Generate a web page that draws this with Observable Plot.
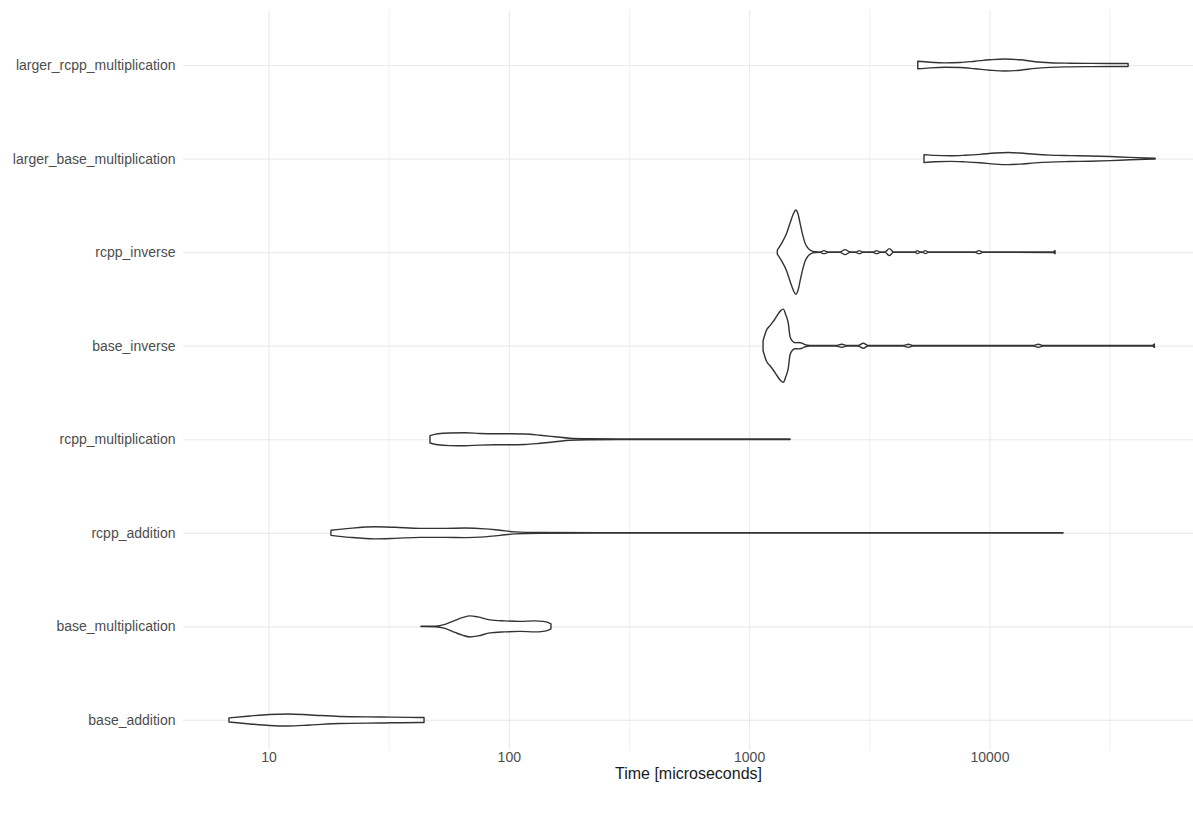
<!DOCTYPE html>
<html><head><meta charset="utf-8">
<script src="https://cdn.jsdelivr.net/npm/d3@7"></script>
<script src="https://cdn.jsdelivr.net/npm/@observablehq/plot@0.6"></script>
<style>body{margin:0;background:#fff;} #chart{width:1193px;height:816px;}</style>
</head><body><div id="chart"></div>
<script>
// categories, bottom to top
const categories = ["base_addition","base_multiplication","rcpp_addition","rcpp_multiplication","base_inverse","rcpp_inverse","larger_base_multiplication","larger_rcpp_multiplication"];

// x axis breaks (microseconds)
const xTicks = [10, 100, 1000, 10000];
const minorBreaks = [31.62, 316.2, 3162, 31623];

// violin outlines: time (microseconds) and relative density (% of widest)
const baseAdditionTime = [6.85,8.38,10.1,12.05,14.9,19.8,29.1,42.7,44.4];
const baseAdditionDens = [4.8,9.5,13.1,14.3,11.9,8.3,7.1,6.0,6.0];

const baseMultTime = [43.1,49.3,54.3,59.7,64.5,69.0,74.4,83.5,96.4,111.3,128.5,138.8,147.0,149.8];
const baseMultDens = [0.5,0.7,4.8,14.3,21.4,25.0,22.6,15.5,13.1,11.9,13.1,11.9,8.3,6.0];

const rcppAdditionTime = [18.2,21.8,27.7,33.6,42.7,54.3,65.7,79.6,91.9,106.1,134.9,239.7,1629,20250];
const rcppAdditionDens = [6.0,10.7,14.3,13.1,10.7,10.7,11.4,9.5,6.0,2.4,1.0,0.5,0.5,0.4];

const rcppMultTime = [47.0,50.7,56.9,65.7,75.9,87.6,101.2,116.8,134.9,155.7,179.8,217.8,290.3,625,1480];
const rcppMultDens = [8.8,13.1,15.0,15.5,13.8,13.1,13.1,12.4,9.5,6.0,2.4,1.2,0.7,0.5,0.5];

const baseInverseTime = [1143,1184,1222,1258,1307,1354,1388,1420,1456,1480,1509,1552,1598,1660,1709,1792,2299,2429,2555,2840,2988,3125,4369,4598,4810,15190,15980,16720,47500,48550];
const baseInverseDens = [11.9,38.1,47.6,57.1,71.4,83.3,86.9,73.8,52.4,21.4,11.9,7.1,7.6,6.0,2.4,0.7,0.6,3.6,0.6,0.6,6.0,0.6,0.6,3.6,0.6,0.6,3.6,0.6,0.6,4.0];

const rcppInverseTime = [1310,1367,1434,1480,1527,1563,1598,1629,1676,1709,1758,1810,1880,1973,2049,2130,2390,2507,2630,2785,2874,2970,3278,3396,3505,3677,3832,3982,4902,5013,5143,5278,5411,5568,8712,9050,9377,18400,18750];
const rcppInverseDens = [4.8,21.4,45.2,69.0,90.5,100,90.5,69.0,38.1,21.4,9.5,3.6,1.0,0.6,3.6,0.6,0.6,6.0,0.6,0.6,3.6,0.6,0.6,3.6,0.6,0.6,8.3,0.6,0.6,3.6,0.6,0.6,3.6,0.6,0.6,3.6,0.6,0.7,3.6];

const largerBaseTime = [5343,5937,6855,7914,9140,10550,11950,13410,15480,17870,21650,26220,31770,38480,44420,48900];
const largerBaseDens = [9.5,7.6,6.7,7.9,10.0,13.1,14.3,13.1,10.2,8.3,7.1,6.2,4.8,2.9,1.7,1.0];

const largerRcppTime = [5031,5657,6535,7545,8712,10060,11610,13410,15480,17870,21650,26220,31770,37750];
const largerRcppDens = [9.0,6.7,5.2,6.0,9.0,12.4,14.3,12.4,7.9,5.5,4.3,3.8,3.6,3.6];

const series = [
  ["base_addition", baseAdditionTime, baseAdditionDens],
  ["base_multiplication", baseMultTime, baseMultDens],
  ["rcpp_addition", rcppAdditionTime, rcppAdditionDens],
  ["rcpp_multiplication", rcppMultTime, rcppMultDens],
  ["base_inverse", baseInverseTime, baseInverseDens],
  ["rcpp_inverse", rcppInverseTime, rcppInverseDens],
  ["larger_base_multiplication", largerBaseTime, largerBaseDens],
  ["larger_rcpp_multiplication", largerRcppTime, largerRcppDens]
];

const rows = series.flatMap(([cat, ts, ds]) => ts.map((t, i) => ({cat, t, d: ds[i], pos: categories.indexOf(cat) + 1})));
const maxD = d3.max(rows, r => r.d);
const halfWidth = 0.45;
rows.forEach(r => { r.lo = r.pos - r.d / maxD * halfWidth; r.hi = r.pos + r.d / maxD * halfWidth; });
const positions = categories.map((c, i) => i + 1);

const chart = Plot.plot({
  width: 1193, height: 816,
  marginLeft: 183, marginRight: 0, marginTop: 10, marginBottom: 66,
  style: {fontFamily: "'Liberation Sans', Arial, sans-serif", fontSize: "14px", color: "#4d4d4d", background: "#fff"},
  x: {type: "log", domain: [4.41, 70300]},
  y: {domain: [0.679, 8.588]},
  marks: [
    Plot.gridX(minorBreaks, {stroke: "#ededed", strokeOpacity: 1, strokeWidth: 0.8}),
    Plot.gridX(xTicks, {stroke: "#ebebeb", strokeOpacity: 1, strokeWidth: 1.2}),
    Plot.gridY(positions, {stroke: "#ebebeb", strokeOpacity: 1, strokeWidth: 1.2}),
    Plot.axisX(xTicks, {tickSize: 0, tickPadding: 2, label: null, tickFormat: d => String(d), fill: "#4d4d4d", fontSize: 14}),
    Plot.axisY(positions, {tickSize: 0, tickPadding: 8, label: null, tickFormat: i => categories[i - 1], fill: "#4d4d4d", fontSize: 14}),
    Plot.area(rows, {x1: "t", y1: "lo", y2: "hi", z: "cat", fill: "white", stroke: "#333333", strokeWidth: 1.4, curve: "monotone-x"}),
    Plot.text(["Time [microseconds]"], {frameAnchor: "bottom", dy: 28, text: d => d, fontSize: 16, fill: "#1a1a1a"})
  ]
});
document.getElementById("chart").appendChild(chart);
</script>
</body></html>
